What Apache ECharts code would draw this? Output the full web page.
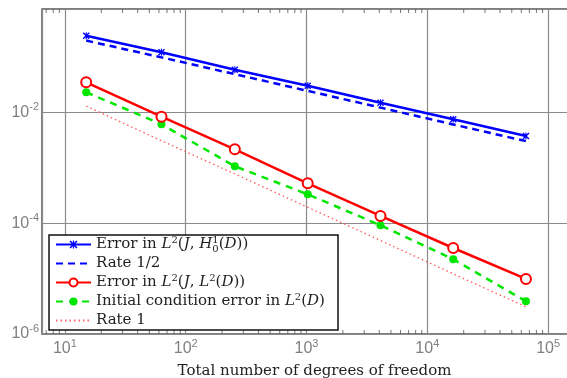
<!DOCTYPE html>
<html>
<head>
<meta charset="utf-8">
<script src="https://cdn.jsdelivr.net/npm/echarts@6/dist/echarts.min.js"></script>
<style>
html, body { margin: 0; padding: 0; background: #fff; }
#chart { width: 567px; height: 378px; }
</style>
</head>
<body>
<div id="chart"></div>
<script>
// values
const dofs = [15, 63, 255, 1023, 4095, 16383, 65535];
const errH1 = [0.245, 0.123, 0.0596, 0.0306, 0.0151, 0.00757, 0.00378];
const rateHalf = [0.2, 0.0995, 0.0495, 0.0247, 0.0123, 0.0061, 0.00305];
const errL2 = [0.0352, 0.00843, 0.00217, 5.28e-4, 1.36e-4, 3.58e-5, 9.87e-6];
const errInit = [0.0233, 0.00615, 0.00107, 3.34e-4, 9.2e-5, 2.24e-5, 3.9e-6];
const rateOne = [0.0131, 0.0031, 7.8e-4, 1.95e-4, 4.9e-5, 1.22e-5, 3.1e-6];
const seriesNames = [
    'Error in L2(J,H1)',
    'Rate 1/2',
    'Error in L2(J,L2)',
    'Initial condition error',
    'Rate 1'
];

const xMin = 6.46, xMax = 2.098e5;
const yMin = 1e-6, yMax = 0.744;

// minor ticks 2..9 in every decade (x axis, bottom and top)
const minorBottom = [];
const minorTop = [];
[1, 10, 100, 1000, 10000, 100000].forEach(d => {
    for (let k = 2; k <= 9; k++) {
        if (k * d > xMin && k * d < xMax) {
            minorBottom.push([k * d, yMin]);
            minorTop.push([k * d, yMax]);
        }
    }
});

const labelGray = '#808080';
const tickRich = {
    b: { fontSize: 16, color: labelGray, fontFamily: 'Liberation Sans', lineHeight: 18 },
    e: { fontSize: 11, color: labelGray, fontFamily: 'Liberation Sans', lineHeight: 18, verticalAlign: 'bottom', padding: [0, 0, 9, 0] }
};
function powLabel(v) {
    const e = Math.log10(v);
    if (Math.abs(e - Math.round(e)) > 0.01) return '';
    return '{b|10}{e|' + Math.round(e) + '}';
}

const serif = 'DejaVu Serif';
const legendText = {
    'Error in L2(J,H1)': 'Error in {i|L}{s|2}({i|J}, {i|H}{z|1}{u|0}({i|D}))',
    'Rate 1/2': 'Rate 1/2',
    'Error in L2(J,L2)': 'Error in {i|L}{s|2}({i|J}, {i|L}{s|2}({i|D}))',
    'Initial condition error': 'Initial condition error in {i|L}{s|2}({i|D})',
    'Rate 1': 'Rate 1'
};

const xMark = 'path://M0,1.4L1.4,0L5,3.6L8.6,0L10,1.4L6.4,5L10,8.6L8.6,10L5,6.4L1.4,10L0,8.6L3.6,5Z M4.2,0L5.8,0L5.8,10L4.2,10Z';

let myChart = echarts.init(document.getElementById('chart'));

let option = {
    animation: false,
    grid: {
        left: 42,
        top: 9,
        width: 545,
        height: 325,
        outerBoundsMode: 'none',
        containLabel: false,
        show: true,
        borderColor: '#555',
        borderWidth: 1.5,
        backgroundColor: 'transparent'
    },
    xAxis: {
        type: 'log',
        min: xMin,
        max: xMax,
        axisLine: { show: false },
        axisTick: { show: false },
        splitLine: { show: true, lineStyle: { color: '#8a8a8a', width: 1.2 } },
        axisLabel: { formatter: powLabel, rich: tickRich, margin: 6 },
        name: 'Total number of degrees of freedom',
        nameLocation: 'middle',
        nameGap: 30,
        nameTextStyle: { fontFamily: serif, fontSize: 15, color: '#222' }
    },
    yAxis: {
        type: 'log',
        logBase: 100,
        min: yMin,
        max: yMax,
        axisLine: { show: false },
        axisTick: { show: false },
        splitLine: { show: true, lineStyle: { color: '#8a8a8a', width: 1.2 } },
        axisLabel: { formatter: powLabel, rich: tickRich, margin: 3 }
    },
    legend: {
        data: seriesNames.map((n, i) => (i === 1 || i === 4)
            ? { name: n, itemStyle: { opacity: 0 } }
            : { name: n }),
        orient: 'vertical',
        left: 49,
        top: 235,
        padding: [0, 6, 0, 6],
        itemGap: 0,
        itemWidth: 35,
        itemHeight: 10,
        backgroundColor: '#fff',
        borderColor: '#111',
        borderWidth: 1.5,
        z: 10,
        formatter: name => legendText[name],
        textStyle: {
            fontFamily: serif,
            fontSize: 15,
            lineHeight: 19,
            height: 19,
            color: '#222',
            width: 236,
            rich: {
                i: { fontFamily: serif, fontStyle: 'italic', fontSize: 15, color: '#222' },
                s: { fontFamily: serif, fontSize: 10, color: '#222', lineHeight: 10, verticalAlign: 'top', padding: [0, 0, 0, 0] },
                z: { fontFamily: serif, fontSize: 10, color: '#222', lineHeight: 10, verticalAlign: 'top', width: 0 },
                u: { fontFamily: serif, fontSize: 10, color: '#222', lineHeight: 10, verticalAlign: 'bottom' }
            }
        }
    },
    series: [
        {
            name: seriesNames[0],
            type: 'line',
            data: dofs.map((x, i) => [x, errH1[i]]),
            symbol: xMark,
            symbolSize: 7,
            lineStyle: { color: '#0000ff', width: 2.5 },
            itemStyle: { color: '#0000ff' },
            z: 5
        },
        {
            name: seriesNames[1],
            type: 'line',
            data: dofs.map((x, i) => [x, rateHalf[i]]),
            symbol: 'none',
            lineStyle: { color: '#0000ff', width: 2.5, type: [7, 5] },
            itemStyle: { color: '#0000ff' },
            z: 4
        },
        {
            name: seriesNames[2],
            type: 'line',
            data: dofs.map((x, i) => [x, errL2[i]]),
            symbol: 'emptyCircle',
            symbolSize: 10,
            lineStyle: { color: '#ff0000', width: 2.5 },
            itemStyle: { color: '#ff0000', borderWidth: 2, borderColor: '#ff0000' },
            z: 5
        },
        {
            name: seriesNames[3],
            type: 'line',
            data: dofs.map((x, i) => [x, errInit[i]]),
            symbol: 'circle',
            symbolSize: 8,
            lineStyle: { color: '#00e600', width: 2.5, type: [7, 6] },
            itemStyle: { color: '#00e600' },
            z: 4
        },
        {
            name: seriesNames[4],
            type: 'line',
            data: dofs.map((x, i) => [x, rateOne[i]]),
            symbol: 'none',
            lineStyle: { color: '#ff6060', width: 1.4, type: [1.5, 3] },
            itemStyle: { color: '#ff6060' },
            z: 3
        },
        {
            name: 'minor ticks bottom',
            type: 'scatter',
            silent: true,
            clip: false,
            data: minorBottom,
            symbol: 'rect',
            symbolSize: [1, 4],
            symbolOffset: [0, -2],
            itemStyle: { color: '#555' },
            z: 2
        },
        {
            name: 'minor ticks top',
            type: 'scatter',
            silent: true,
            clip: false,
            data: minorTop,
            symbol: 'rect',
            symbolSize: [1, 4],
            symbolOffset: [0, 2],
            itemStyle: { color: '#555' },
            z: 2
        }
    ]
};

myChart.setOption(option);
</script>
</body>
</html>
